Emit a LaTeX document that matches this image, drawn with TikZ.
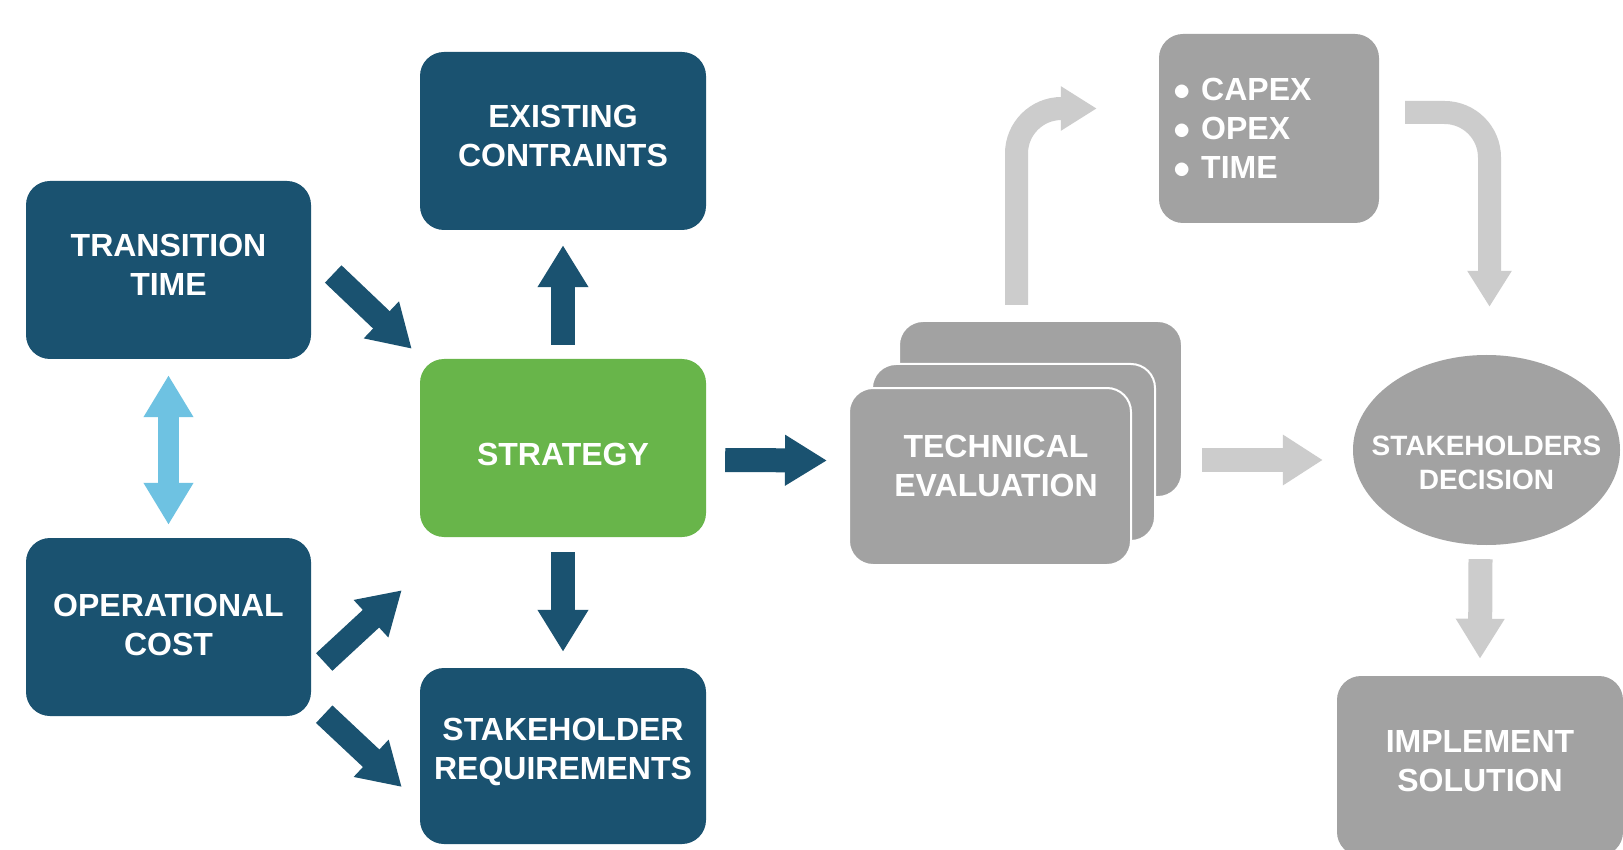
\documentclass[tikz,border=0pt]{standalone}
\usepackage{fontspec}
\setmainfont{Liberation Sans}
\usetikzlibrary{arrows.meta,shapes.geometric,positioning}
\definecolor{darkblue}{RGB}{26,82,112}
\definecolor{stratgreen}{RGB}{104,181,74}
\definecolor{lightblue}{RGB}{110,194,226}
\definecolor{boxgray}{RGB}{162,162,162}
\definecolor{arrowgray}{RGB}{204,204,204}
% text block of a box, moved up or down by #1, of no size for the node
\newcommand{\boxtext}[2]{\makebox[0pt]{\raisebox{#1}[0pt][0pt]{\begin{tabular}{@{}c@{}}#2\end{tabular}}}}
\newcommand{\capbullet}{\raisebox{0pt}{\scalebox{1.4}{$\bullet$}}\hspace{10.8pt}}
\tikzset{blue box/.style={rectangle,rounded corners=24pt,fill=darkblue,text=white,
            font=\fontsize{32}{39}\selectfont\bfseries,
            minimum width=286pt,minimum height=178pt,inner sep=0pt},
         green box/.style={blue box,fill=stratgreen},
         gray box/.style={blue box,fill=boxgray},
         card/.style={gray box,draw=white,line width=2pt,minimum width=283pt,minimum height=177pt},
         decision/.style={ellipse,fill=boxgray,text=white,font=\fontsize{28}{34}\selectfont\bfseries,
            minimum width=267pt,minimum height=190pt,inner sep=0pt},
         blue arrow/.style={darkblue,line width=24pt,-{Triangle[width=48pt,length=42pt]}},
         gray arrow/.style={arrowgray,line width=24pt,-{Triangle[width=48pt,length=40pt]}},
         bent arrow/.style={arrowgray,line width=23pt,-{Triangle[width=42pt,length=36pt]}},
         twin arrow/.style={lightblue,line width=21pt,{Triangle[width=47pt,length=42pt]}-{Triangle[width=47pt,length=42pt]}},
}

\begin{document}
\begin{tikzpicture}[x=1pt,y=-1pt]

\clip (0,0) rectangle (1623,850);
\fill[white] (0,0) rectangle (1623,850);

% left part
\node[blue box,minimum width=285pt] (trans) at (168.5,270) {\boxtext{-4.6pt}{TRANSITION\\TIME}};
\node[blue box,minimum width=285pt] (op) at (168.5,627) {\boxtext{-7.7pt}{OPERATIONAL\\COST}};
\node[blue box] (exist) at (563,141) {\boxtext{-4.2pt}{EXISTING\\CONTRAINTS}};
\node[green box] (strat) at (563,448) {\boxtext{-16pt}{STRATEGY}};
\node[blue box,minimum height=176pt] (req) at (563,756) {\boxtext{-2.5pt}{STAKEHOLDER\\REQUIREMENTS}};

% right part
\node[card,minimum height=176pt] (techb) at (1040.5,409) {};
\node[card] (techm) at (1013.5,452.5) {};
\node[card,minimum width=282pt] (techf) at (990,476.5) {\boxtext{1pt}{\hspace*{12pt}TECHNICAL\\\hspace*{12pt}EVALUATION}};
\node[gray box,minimum width=220pt,minimum height=189pt,text width=192pt,inner xsep=14pt,align=left]
    (capex) at (1269,128.5) {\capbullet CAPEX\\\capbullet OPEX\\\capbullet TIME};
\node[decision] (dec) at (1486.5,450) {\boxtext{-21.7pt}{STAKEHOLDERS\\DECISION}};
\node[gray box,minimum height=180pt] (impl) at (1480,766) {\boxtext{-4.9pt}{IMPLEMENT\\SOLUTION}};

\draw[blue arrow] ([xshift=22pt,yshift=-4pt]trans.east) -- ([xshift=-8pt,yshift=10pt]strat.north west);
\draw[blue arrow] ([xshift=13pt,yshift=-35pt]op.east) -- ([xshift=-18pt,yshift=-53pt]strat.south west);
\draw[blue arrow] ([xshift=13pt,yshift=2pt]op.south east) -- ([xshift=-18pt,yshift=-31pt]req.west);
\draw[twin arrow] ([yshift=-16pt]trans.south) -- ([yshift=13pt]op.north);
\draw[blue arrow] ([yshift=14pt]strat.north) -- ([yshift=-15pt]exist.south);
\draw[blue arrow] ([yshift=-15pt]strat.south) -- ([yshift=16pt]req.north);
\draw[blue arrow] ([xshift=19pt,yshift=-12pt]strat.east) -- ([xshift=-21pt,yshift=16pt]techf.west);

\draw[gray arrow] ([xshift=19pt,yshift=-51pt]techb.east) -- ([xshift=-30pt,yshift=-10pt]dec.west);
\draw[bent arrow,rounded corners=45pt] ([xshift=-24pt,yshift=15pt]techb.north) |- ([xshift=-62pt,yshift=20pt]capex.west);
\draw[bent arrow,rounded corners=45pt] ([xshift=26pt,yshift=16pt]capex.east) -| ([xshift=3pt,yshift=48pt]dec.north);
\draw[gray arrow,-{Triangle[width=46pt,length=40pt]}] ([xshift=-6pt,yshift=-14pt]dec.south) -- ([yshift=17pt]impl.north);

\end{tikzpicture}
\end{document}
